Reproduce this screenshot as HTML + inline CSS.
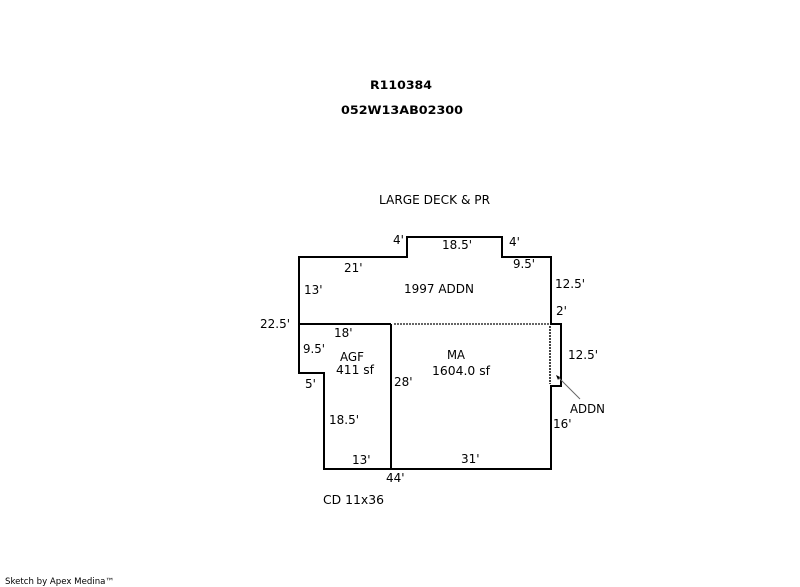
<!DOCTYPE html>
<html>
<head>
<meta charset="utf-8">
<style>
html,body{margin:0;padding:0;background:#fff;width:800px;height:587px;overflow:hidden}
svg{display:block}
text{font-family:"DejaVu Sans","Liberation Sans",sans-serif;font-size:12px;fill:#000}
.b{font-weight:bold;font-size:11.5px}
.s{font-size:8.5px}
</style>
</head>
<body>
<svg width="800" height="587" viewBox="0 0 800 587" xmlns="http://www.w3.org/2000/svg">
<g fill="none" stroke="#000" stroke-width="2" shape-rendering="crispEdges">
<path d="M391 324H299V257H407V237H502V257H551V324H561V386H551V469H324V373H299V323"/>
<path d="M391 324V469"/>
</g>
<path d="M394 324H549" fill="none" stroke="#666" stroke-width="2" stroke-dasharray="2 1" shape-rendering="crispEdges"/>
<path d="M550 326V384" fill="none" stroke="#444" stroke-width="2" stroke-dasharray="2 1" shape-rendering="crispEdges"/>
<path d="M580 399L558 377" stroke="#666" stroke-width="1" fill="none"/>
<path d="M556 375L560 377L558 380Z" fill="#000"/>

<text class="b" x="370" y="89" textLength="62" lengthAdjust="spacingAndGlyphs">R110384</text>
<text class="b" x="341" y="114" textLength="122" lengthAdjust="spacingAndGlyphs">052W13AB02300</text>

<text x="379" y="204" textLength="111" lengthAdjust="spacingAndGlyphs">LARGE DECK &amp; PR</text>
<text x="393" y="244">4'</text>
<text x="442" y="249" textLength="30" lengthAdjust="spacingAndGlyphs">18.5'</text>
<text x="509" y="246">4'</text>
<text x="513" y="268" textLength="22" lengthAdjust="spacingAndGlyphs">9.5'</text>
<text x="344" y="272">21'</text>
<text x="555" y="288" textLength="30" lengthAdjust="spacingAndGlyphs">12.5'</text>
<text x="304" y="294">13'</text>
<text x="404" y="293" textLength="70" lengthAdjust="spacingAndGlyphs">1997 ADDN</text>
<text x="556" y="315">2'</text>
<text x="260" y="328" textLength="30" lengthAdjust="spacingAndGlyphs">22.5'</text>
<text x="334" y="337">18'</text>
<text x="303" y="353" textLength="22" lengthAdjust="spacingAndGlyphs">9.5'</text>
<text x="340" y="361" textLength="24" lengthAdjust="spacingAndGlyphs">AGF</text>
<text x="336" y="374" textLength="38" lengthAdjust="spacingAndGlyphs">411 sf</text>
<text x="447" y="359" textLength="18" lengthAdjust="spacingAndGlyphs">MA</text>
<text x="432" y="375" textLength="58" lengthAdjust="spacingAndGlyphs">1604.0 sf</text>
<text x="568" y="359" textLength="30" lengthAdjust="spacingAndGlyphs">12.5'</text>
<text x="305" y="388">5'</text>
<text x="394" y="386">28'</text>
<text x="570" y="413" textLength="35" lengthAdjust="spacingAndGlyphs">ADDN</text>
<text x="329" y="424" textLength="30" lengthAdjust="spacingAndGlyphs">18.5'</text>
<text x="553" y="428">16'</text>
<text x="352" y="464">13'</text>
<text x="461" y="463">31'</text>
<text x="386" y="482">44'</text>
<text x="323" y="504" textLength="61" lengthAdjust="spacingAndGlyphs">CD 11x36</text>
<text class="s" x="5" y="584" textLength="109" lengthAdjust="spacingAndGlyphs">Sketch by Apex Medina™</text>
</svg>
</body>
</html>
